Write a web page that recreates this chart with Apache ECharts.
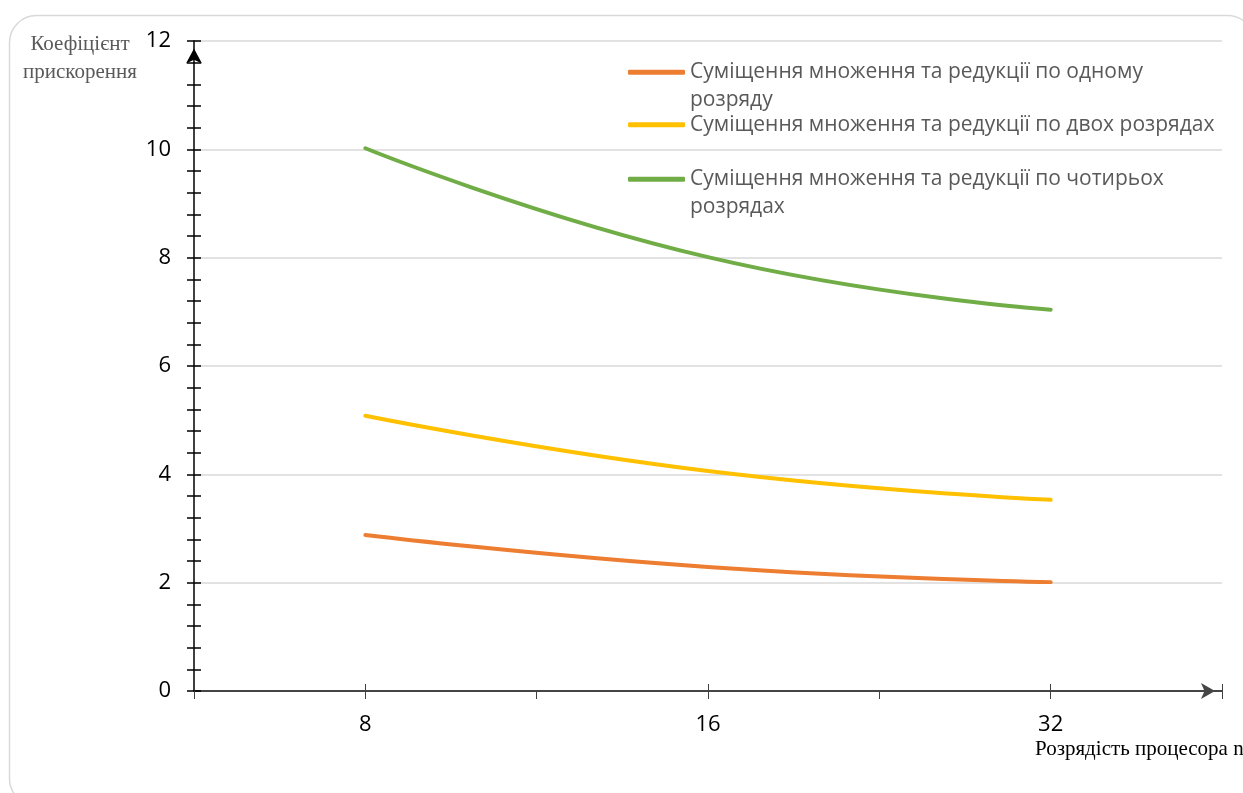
<!DOCTYPE html>
<html>
<head>
<meta charset="utf-8">
<script src="https://cdn.jsdelivr.net/npm/echarts@6/dist/echarts.min.js"></script>
<style>
html,body{margin:0;padding:0;background:#fff;}
#c{width:1243px;height:793px;}
</style>
</head>
<body>
<div id="c"></div>
<script>
// ---- data ----
const categories = ['8', '16', '32'];
const seriesNames = [
  'Суміщення множення та редукції по одному розряду',
  'Суміщення множення та редукції по двох розрядах',
  'Суміщення множення та редукції по чотирьох розрядах'
];
const legendLabels = [
  'Суміщення множення та редукції по одному\nрозряду',
  'Суміщення множення та редукції по двох розрядах',
  'Суміщення множення та редукції по чотирьох\nрозрядах'
];
const oneBit = [2.88, 2.29, 2.01];
const twoBit = [5.08, 4.06, 3.53];
const fourBit = [10.02, 8.01, 7.04];
const yTicks = [0, 2, 4, 6, 8, 10, 12];
const yAxisTitle = 'Коефіцієнт\nприскорення';
const xAxisTitle = 'Розрядість процесора n';
const colors = ['#ED7D31', '#FFC000', '#70AD47'];

// category slots: categories sit on odd slots, half-gaps between
const slots = [''];
categories.forEach(c => { slots.push(c); slots.push(''); });
function spread(vals) {
  const out = [null];
  vals.forEach(v => { out.push(v); out.push(null); });
  return out;
}
const allVals = [oneBit, twoBit, fourBit];

const labelFont = 'Open Sans';
const chart = echarts.init(document.getElementById('c'));
const grid = { left: 194, right: 21, top: 41, bottom: 102 };

const legendTops = [31, 111, 138];
const legends = seriesNames.map((n, i) => {
  const multi = legendLabels[i].indexOf('\n') >= 0;
  return {
    data: [n],
    left: 628,
    top: legendTops[i],
    padding: 0,
    orient: 'vertical',
    icon: 'roundRect',
    itemWidth: 57,
    itemHeight: 5,
    selectedMode: false,
    formatter: () => (multi ? '\n' : '') + legendLabels[i],
    textStyle: {
      fontFamily: labelFont,
      fontSize: 21,
      color: '#595959',
      lineHeight: 27.5
    }
  };
});

chart.setOption({
  animation: false,
  backgroundColor: '#fff',
  color: colors,
  grid: grid,
  legend: legends,
  graphic: [
    { type: 'rect', shape: { x: 9.5, y: 15.5, width: 1245, height: 790, r: 27 },
      style: { fill: 'none', stroke: '#d9d9d9', lineWidth: 1.5 }, silent: true, z: -10 },
    { type: 'text', x: 80, y: 30,
      style: { text: yAxisTitle, font: '21px "Liberation Serif"', fill: '#595959', align: 'center', lineHeight: 28 } },
    { type: 'text', x: 1035, y: 739,
      style: { text: xAxisTitle, font: '21px "Liberation Serif"', fill: '#000', align: 'left' } }
  ],
  xAxis: [
    {
      type: 'category', data: slots, boundaryGap: false,
      axisLine: { lineStyle: { color: '#454545', width: 2 }, symbol: ['none', 'arrow'], symbolSize: [12, 14], symbolOffset: [0, -7] },
      axisTick: { show: true, length: 8, alignWithLabel: true, interval: 0, lineStyle: { color: '#404040', width: 1 } },
      axisLabel: { interval: 0, margin: 23, fontFamily: labelFont, fontSize: 22, color: '#000' },
      splitLine: { show: false }
    },
    {
      type: 'category', data: slots, boundaryGap: false, position: 'bottom',
      axisLine: { show: false },
      axisTick: { show: true, inside: true, length: 7, interval: (idx) => idx % 2 === 1 || idx === slots.length - 1, lineStyle: { color: '#404040', width: 1 } },
      axisLabel: { show: false },
      splitLine: { show: false }
    }
  ],
  yAxis: [
    {
      type: 'value', min: yTicks[0], max: yTicks[yTicks.length - 1], interval: 2,
      axisLine: { show: true, lineStyle: { color: '#000', width: 1.5 }, symbol: ['none', 'arrow'], symbolSize: [12, 15], symbolOffset: [0, -7.5] },
      axisTick: { show: true, length: 7, lineStyle: { color: '#000', width: 1.5 } },
      minorTick: { show: true, splitNumber: 5, length: 7, lineStyle: { color: '#000', width: 1.5 } },
      axisLabel: { margin: 23, fontFamily: labelFont, fontSize: 22, color: '#000' },
      splitLine: { show: true, lineStyle: { color: '#d9d9d9', width: 1.5 } }
    },
    {
      type: 'value', min: yTicks[0], max: yTicks[yTicks.length - 1], interval: 2, position: 'left',
      axisLine: { show: false },
      axisTick: { show: true, inside: true, length: 7, lineStyle: { color: '#000', width: 1.5 } },
      minorTick: { show: true, splitNumber: 5, length: 7, lineStyle: { color: '#000', width: 1.5 } },
      axisLabel: { show: false },
      splitLine: { show: false }
    }
  ],
  series: seriesNames.map((n, i) => ({
    name: n,
    type: 'line',
    data: spread(allVals[i]),
    connectNulls: true,
    smooth: 0.5,
    showSymbol: false,
    symbol: 'none',
    lineStyle: { width: 4, color: colors[i], cap: 'round' },
    itemStyle: { color: colors[i] },
    z: 5
  }))
});
</script>
</body>
</html>
